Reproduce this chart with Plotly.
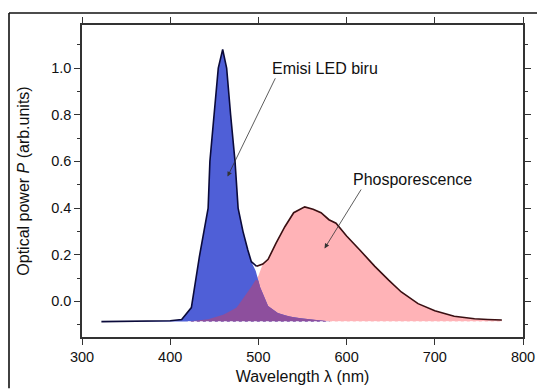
import numpy as np
import plotly.graph_objects as go

BASE = -0.087

# Blue LED emission component (wavelength nm, power)
led_x = [322, 350, 380, 400, 413, 424, 433, 443, 445, 450, 454.5, 459.5, 464, 468.5, 473.5,
         477, 482.5, 488, 492, 497, 502, 511, 522, 535, 548, 565, 582]
led_y = [-0.087, -0.086, -0.085, -0.083, -0.078, -0.027, 0.19, 0.40, 0.60, 0.80, 1.00, 1.08, 1.00,
         0.80, 0.60, 0.40, 0.30, 0.22, 0.17, 0.13, 0.06, -0.02, -0.05, -0.065, -0.073, -0.08, -0.087]

# Phosphorescence component
ph_x = [420, 440, 460, 475, 490, 500, 505, 511, 520, 530, 540, 552.5, 562, 571, 580, 588, 600,
        615, 632, 648, 662, 681, 700, 722, 745, 760, 776]
ph_y = [-0.087, -0.08, -0.058, -0.028, 0.05, 0.11, 0.16, 0.18, 0.25, 0.32, 0.38, 0.405, 0.395,
        0.38, 0.35, 0.335, 0.28, 0.22, 0.15, 0.09, 0.04, -0.01, -0.04, -0.064, -0.075, -0.078, -0.08]

# Measured envelope around the dip between the two bands
dip_x = [498]
dip_y = [0.15]

led_x = np.array(led_x); led_y = np.array(led_y)
ph_x = np.array(ph_x); ph_y = np.array(ph_y)

def poly(xs, ys):
    xs = list(xs); ys = list(ys)
    return xs + xs[::-1], ys + [BASE] * len(xs)

fig = go.Figure()

px_, py_ = poly(ph_x, ph_y)
fig.add_trace(go.Scatter(x=px_, y=py_, fill="toself", fillcolor="#ffb3b7",
                         line=dict(width=0), mode="lines", hoverinfo="skip"))
bx_, by_ = poly(led_x, led_y)
fig.add_trace(go.Scatter(x=bx_, y=by_, fill="toself", fillcolor="#4f5fd7",
                         line=dict(width=0), mode="lines", hoverinfo="skip"))

# overlap region (min of both components)
gx = np.unique(np.concatenate([led_x, ph_x]))
gx = gx[(gx >= ph_x.min()) & (gx <= led_x.max())]
gy = np.minimum(np.interp(gx, led_x, led_y), np.interp(gx, ph_x, ph_y))
ox_, oy_ = poly(gx, gy)
fig.add_trace(go.Scatter(x=ox_, y=oy_, fill="toself", fillcolor="#8d4f9d",
                         line=dict(width=0), mode="lines", hoverinfo="skip"))

# dotted baseline
fig.add_trace(go.Scatter(x=[ph_x.min(), ph_x.max()], y=[BASE, BASE], mode="lines",
                         line=dict(color="rgba(255,255,255,0.8)", width=1, dash="dot"),
                         hoverinfo="skip"))

# outline of the measured spectrum
m1 = led_x <= 492
m2 = ph_x >= 505
fig.add_trace(go.Scatter(x=list(led_x[m1]) + dip_x, y=list(led_y[m1]) + dip_y, mode="lines",
                         line=dict(color="#0a0a3a", width=1.6), hoverinfo="skip"))
fig.add_trace(go.Scatter(x=dip_x + list(ph_x[m2]), y=dip_y + list(ph_y[m2]), mode="lines",
                         line=dict(color="#3a0f12", width=1.6), hoverinfo="skip"))

tickfont = dict(family="Liberation Sans, Arial", size=14.5, color="#111")
axcommon = dict(showline=True, linecolor="#333", linewidth=1.6, mirror="ticks",
                ticks="outside", ticklen=6, tickwidth=1.4, tickcolor="#333",
                showgrid=False, zeroline=False, tickfont=tickfont, automargin=False)

fig.update_xaxes(range=[300, 800], dtick=100, tick0=300,
                 title=dict(text="Wavelength λ (nm)", standoff=7,
                            font=dict(family="Liberation Sans, Arial", size=16, color="#111")),
                 **axcommon)
fig.update_yaxes(range=[-0.153, 1.185], dtick=0.2, tick0=0, tickformat=".1f",
                 minor=dict(ticks="outside", ticklen=3, dtick=0.1, tick0=0, tickcolor="#333"),
                 title=dict(text="Optical power <i>P</i> (arb.units)", standoff=18,
                            font=dict(family="Liberation Sans, Arial", size=16, color="#111")),
                 **axcommon)

afont = dict(family="Liberation Sans, Arial", size=16, color="#111")
fig.add_annotation(x=513, y=1.0, text="Emisi LED biru", showarrow=False,
                   xanchor="left", yanchor="middle", font=afont)
fig.add_annotation(x=605, y=0.524, text="Phosporescence", showarrow=False,
                   xanchor="left", yanchor="middle", font=afont)
fig.add_annotation(x=465, y=0.535, ax=520, ay=0.963, axref="x", ayref="y", text="",
                   showarrow=True, arrowhead=2, arrowsize=1.2, arrowwidth=0.8, arrowcolor="#333")
fig.add_annotation(x=575, y=0.227, ax=617.5, ay=0.486, axref="x", ayref="y", text="",
                   showarrow=True, arrowhead=2, arrowsize=1.2, arrowwidth=0.8, arrowcolor="#333")

# outer frame: left and top edges only (others run off the picture)
PW, PH = 441, 311.7
fx0 = (9 - 82) / PW
fy1 = 1 + (25 - 13) / PH
fx1 = (537 - 82) / PW
fy0 = -(388 - 336.7) / PH
fig.add_shape(type="line", xref="paper", yref="paper", x0=fx0, x1=fx0, y0=fy0, y1=fy1,
              line=dict(color="#111", width=1.6), layer="above")
fig.add_shape(type="line", xref="paper", yref="paper", x0=fx0, x1=fx1, y0=fy1, y1=fy1,
              line=dict(color="#111", width=1.6), layer="above")

fig.update_layout(width=538, height=389, showlegend=False,
                  margin=dict(l=82, r=15, t=25, b=52),
                  plot_bgcolor="white", paper_bgcolor="white")

fig.write_html("out.html")
